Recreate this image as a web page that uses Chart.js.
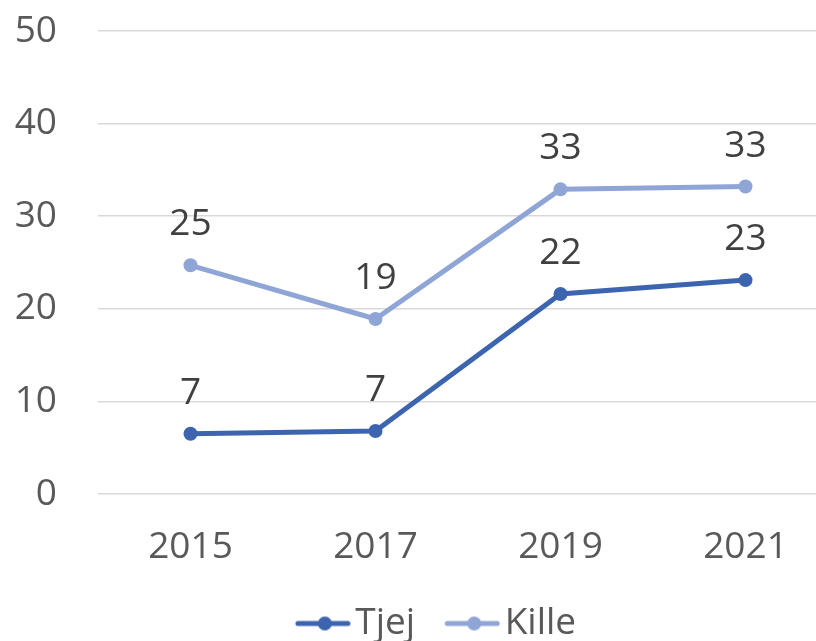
<!DOCTYPE html>
<html>
<head>
<meta charset="utf-8">
<script src="https://cdn.jsdelivr.net/npm/chart.js@4/dist/chart.umd.min.js"></script>
<style>
  html, body { margin: 0; padding: 0; background: #ffffff; overflow: hidden; }
  #wrap { width: 845px; height: 641px; }
</style>
</head>
<body>
<div id="wrap"><canvas id="myChart" width="845" height="641"></canvas></div>
<script>
/*
  • Config
  ---------- ---------- ---------- ---------- ----------
*/

const years = ['2015', '2017', '2019', '2021'];
const tjej = [6.5, 6.8, 21.6, 23.1];
const kille = [24.7, 18.9, 32.9, 33.2];
const yTicks = [0, 10, 20, 30, 40, 50];

const FONT = 'Open Sans';
const FONT_SIZE = 37;
const TJEJ_COLOR = '#3D64AE';
const KILLE_COLOR = '#8FA5D6';
const LEGEND_GAP = 16; // extra room before each legend item

/*
  • Private Functions
  ---------- ---------- ---------- ---------- ----------
*/

// little line + dot sample for the legend, transparent space on its left
function legendSample (color) {
  const c = document.createElement('canvas');
  c.width = 56 + LEGEND_GAP;
  c.height = 16;
  const g = c.getContext('2d');
  const x0 = LEGEND_GAP;
  g.strokeStyle = color;
  g.lineWidth = 5;
  g.lineCap = 'round';
  g.beginPath();
  g.moveTo(x0 + 3, 8);
  g.lineTo(x0 + 53, 8);
  g.stroke();
  g.fillStyle = color;
  g.beginPath();
  g.arc(x0 + 30, 8, 7, 0, Math.PI * 2);
  g.fill();
  return c;
}

const valueLabels = {
  id: 'valueLabels',
  afterDatasetsDraw (chart) {
    const ctx = chart.ctx;
    ctx.save();
    ctx.font = FONT_SIZE + 'px "' + FONT + '"';
    ctx.fillStyle = '#404040';
    ctx.textAlign = 'center';
    ctx.textBaseline = 'alphabetic';
    chart.data.datasets.forEach(function (dataset, i) {
      const meta = chart.getDatasetMeta(i);
      meta.data.forEach(function (pt, index) {
        ctx.fillText(String(Math.round(dataset.data[index])), pt.x, pt.y - 30);
      });
    });
    ctx.restore();
  }
};

// the canvas is wider than the window, so nudge the legend back to the middle
const legendShift = {
  id: 'legendShift',
  afterLayout (chart) {
    chart.legend.left += 12;
    chart.legend.right += 12;
  }
};

function myChart () {
  const samples = [legendSample(TJEJ_COLOR), legendSample(KILLE_COLOR)];
  const ctx = document.getElementById('myChart').getContext('2d');

  new Chart(ctx, {
    type: 'line',
    data: {
      labels: years,
      datasets: [{
        label: 'Tjej',
        data: tjej,
        borderColor: TJEJ_COLOR,
        backgroundColor: TJEJ_COLOR,
        pointBackgroundColor: TJEJ_COLOR,
        borderWidth: 5,
        pointRadius: 7,
        pointBorderWidth: 0,
        tension: 0
      }, {
        label: 'Kille',
        data: kille,
        borderColor: KILLE_COLOR,
        backgroundColor: KILLE_COLOR,
        pointBackgroundColor: KILLE_COLOR,
        borderWidth: 5,
        pointRadius: 7,
        pointBorderWidth: 0,
        tension: 0
      }]
    },
    options: {
      responsive: false,
      animation: false,
      layout: {
        padding: {top: 31, left: 0, right: 0, bottom: -11}
      },
      plugins: {
        tooltip: {enabled: false},
        legend: {
          position: 'bottom',
          labels: {
            usePointStyle: true,
            pointStyleWidth: 28 + LEGEND_GAP,
            padding: 27,
            color: '#595959',
            font: {family: FONT, size: FONT_SIZE},
            generateLabels: function (chart) {
              const items = Chart.defaults.plugins.legend.labels.generateLabels(chart);
              items.forEach(function (item, i) {
                item.pointStyle = samples[i];
              });
              return items;
            }
          }
        }
      },
      scales: {
        x: {
          offset: true,
          grid: {display: false, drawTicks: false},
          border: {display: false},
          ticks: {
            color: '#595959',
            padding: 31,
            font: {family: FONT, size: FONT_SIZE}
          },
          afterFit: function (scale) {
            scale.height = 84;
          }
        },
        y: {
          min: 0,
          max: 50,
          afterBuildTicks: function (scale) {
            scale.ticks = yTicks.map(function (v) { return {value: v}; });
          },
          // invisible tick marks give the gap between labels and grid
          grid: {color: '#D9D9D9', lineWidth: 1.5, drawTicks: true, tickLength: 41, tickColor: 'rgba(0,0,0,0)'},
          border: {display: false},
          ticks: {
            color: '#595959',
            padding: 0,
            font: {family: FONT, size: FONT_SIZE}
          },
          afterFit: function (scale) {
            scale.width = 98;
          }
        }
      }
    },
    plugins: [valueLabels, legendShift]
  });
}

/*
  • Init
  ---------- ---------- ---------- ---------- ----------
*/

myChart();
</script>
</body>
</html>
